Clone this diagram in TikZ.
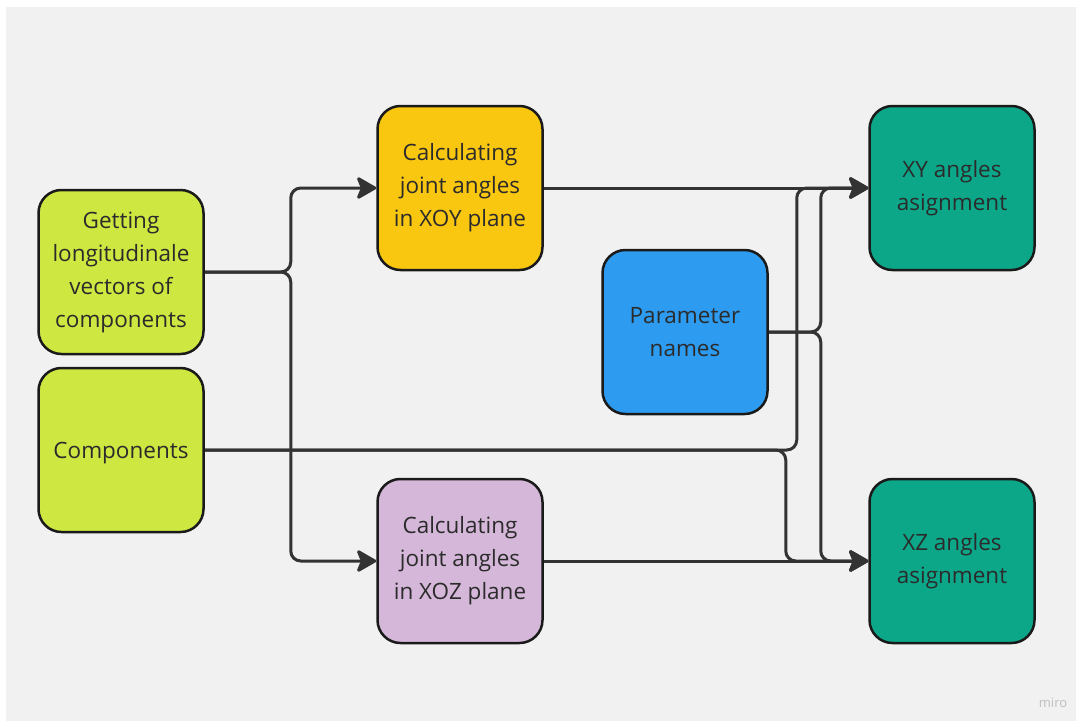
\documentclass[tikz,border=0pt]{standalone}
\usepackage{fontspec}
\setmainfont{Open Sans}
\usetikzlibrary{arrows.meta}
\definecolor{canvas}{HTML}{F1F1F1}
\definecolor{lime}{HTML}{CEE741}
\definecolor{amber}{HTML}{FAC710}
\definecolor{lilac}{HTML}{D5B8D9}
\definecolor{sky}{HTML}{2D9BF0}
\definecolor{teal}{HTML}{0CA789}
\definecolor{ink}{HTML}{1A1A1A}
\definecolor{wire}{HTML}{333333}
\definecolor{label}{HTML}{2B2B2B}
\begin{document}
\begin{tikzpicture}[x=1pt,y=-1pt,
  box/.style={draw=ink, line width=2.5pt, rounded corners=23pt,
    minimum width=165pt, minimum height=164pt, inner sep=0pt,
    align=center, text=label,
    font=\fontsize{22.5}{33}\selectfont,
    % a tall invisible strut on the first line sets the text a little lower
    execute at begin node={\rule{0pt}{22.5pt}}},
  conn/.style={draw=wire, line width=3pt, rounded corners=10pt,
    -{Stealth[length=22pt,width=25pt,inset=5pt,round]}}]
  % page and canvas
  \fill[white] (0,0) rectangle (1081,726);
  \fill[canvas] (6,7) rectangle (1076,721);
  \useasboundingbox (0,0) rectangle (1081,726);

  % boxes
  \node[box, fill=lime]  (vec)  at (121,272) {Getting\\longitudinale\\vectors of\\components};
  \node[box, fill=lime]  (comp) at (121,450) {Components};
  \node[box, fill=amber] (xoy)  at (460,188) {Calculating\\joint angles\\in XOY plane};
  \node[box, fill=lilac] (xoz)  at (460,561) {Calculating\\joint angles\\in XOZ plane};
  \node[box, fill=sky]   (par)  at (685,332) {Parameter\\names};
  \node[box, fill=teal]  (xy)   at (952,188) {XY angles\\asignment};
  \node[box, fill=teal]  (xz)   at (952,561) {XZ angles\\asignment};

  % connectors
  \draw[conn] (vec.east) -- ++(86,0) |- (xoy.west);
  \draw[conn] (vec.east) -- ++(86,0) |- (xoz.west);
  \draw[conn] (comp.east) -- ++(592,0) |- (xy.west);
  \draw[conn] (comp.east) -- ++(581,0) |- (xz.west);
  \draw[conn] (par.east) -- ++(52,0) |- (xy.west);
  \draw[conn] (par.east) -- ++(52,0) |- (xz.west);
  \draw[conn] (xoy.east) -- (xy.west);
  \draw[conn] (xoz.east) -- (xz.west);

  % watermark
  \node[text=black!25, font=\fontsize{13}{15}\selectfont] (mark) at (1053,703) {miro};
\end{tikzpicture}
\end{document}
